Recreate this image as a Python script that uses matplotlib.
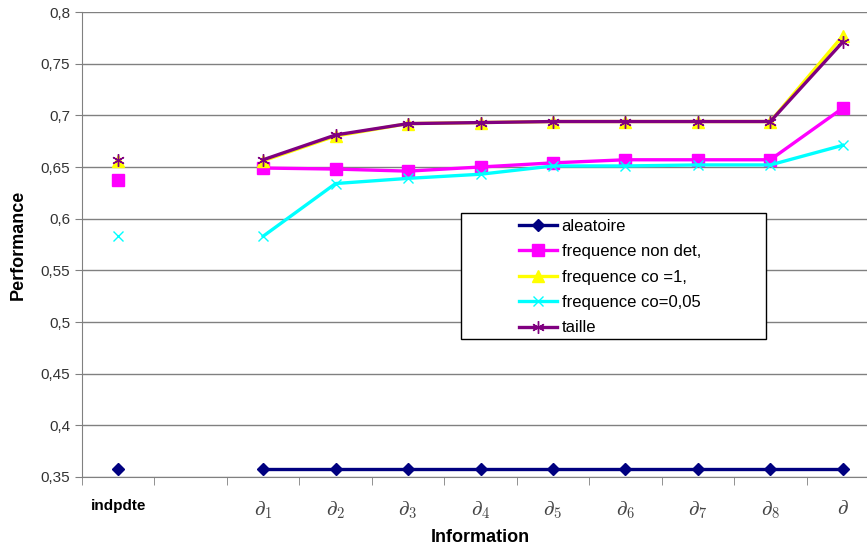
import numpy as np
import matplotlib.pyplot as plt
from matplotlib.patches import Rectangle

plt.rcParams['font.family'] = ['Liberation Sans', 'DejaVu Sans']
plt.rcParams['mathtext.fontset'] = 'cm'

nan = np.nan
categories = ['indpdte', '', r'$\partial_1$', r'$\partial_2$', r'$\partial_3$', r'$\partial_4$',
              r'$\partial_5$', r'$\partial_6$', r'$\partial_7$', r'$\partial_8$', r'$\partial$']

aleatoire = [0.358, nan, 0.358, 0.358, 0.358, 0.358, 0.358, 0.358, 0.358, 0.358, 0.358]
freq_non_det = [0.637, nan, 0.649, 0.648, 0.646, 0.650, 0.654, 0.657, 0.657, 0.657, 0.707]
freq_co1 = [0.656, nan, 0.656, 0.680, 0.692, 0.693, 0.694, 0.694, 0.694, 0.694, 0.777]
freq_co005 = [0.583, nan, 0.583, 0.634, 0.639, 0.643, 0.651, 0.651, 0.652, 0.652, 0.671]
taille = [0.657, nan, 0.657, 0.681, 0.692, 0.693, 0.694, 0.694, 0.694, 0.694, 0.771]

W, H = 867, 546
fig = plt.figure(figsize=(W / 100, H / 100), dpi=100)
ax = fig.add_axes([82 / W, (H - 477) / H, (879 - 82) / W, (477 - 12) / H])

x = np.arange(len(categories))
lw = 2.4
ax.plot(x, aleatoire, color='#000080', lw=lw, marker='D', ms=6, label='aleatoire')
ax.plot(x, freq_non_det, color='#ff00ff', lw=lw, marker='s', ms=8, label='frequence non det,')
ax.plot(x, freq_co1, color='#ffff00', lw=lw, marker='^', ms=9, label='frequence co =1,')
ax.plot(x, freq_co005, color='#00ffff', lw=lw, marker='x', ms=7, mew=1, label='frequence co=0,05')
ax.plot(x, taille, color='#800080', lw=lw, marker=(6, 2, 0), ms=9, mew=1, label='taille')

ax.set_xlim(-0.5, len(categories) - 0.5)
ax.set_ylim(0.35, 0.8)
yt = np.arange(0.35, 0.801, 0.05)
ax.set_yticks(yt)
ax.set_yticklabels([f'{v:.2f}'.rstrip('0').replace('.', ',') for v in yt],
                   fontsize=11, color='#333333')
ax.yaxis.grid(True, color='#808080', lw=1)
ax.set_axisbelow(True)

ax.set_xticks(x)
ax.set_xticklabels(categories)
for i, t in enumerate(ax.get_xticklabels()):
    if i == 0:
        t.set_fontsize(11)
        t.set_fontweight('bold')
    else:
        t.set_fontsize(15)
        t.set_color('#444444')
ax.tick_params(axis='x', which='major', length=0, pad=16)
ax.set_xticks(np.arange(-0.5, len(categories)), minor=True)
ax.tick_params(axis='x', which='minor', length=6, color='#808080', direction='out')
ax.tick_params(axis='y', length=5, color='#808080', direction='out')

for s in ['top', 'right']:
    ax.spines[s].set_visible(False)
for s in ['left', 'bottom']:
    ax.spines[s].set_color('#808080')

ax.set_xlabel('Information', fontsize=13, fontweight='bold', labelpad=6)
ax.set_ylabel('Performance', fontsize=13, fontweight='bold', labelpad=10)

# legend box (white, wider than the entries, like the original)
def fx(px):
    return (px - 82) / (879 - 82)

def fy(py):
    return (477 - py) / (477 - 12)

box = Rectangle((fx(461), fy(339)), fx(766) - fx(461), fy(213) - fy(339),
                transform=ax.transAxes, facecolor='white', edgecolor='black',
                lw=1, zorder=4)
ax.add_patch(box)
leg = ax.legend(loc='upper left', bbox_to_anchor=(fx(519), fy(219)),
                fontsize=12, frameon=False, borderpad=0,
                labelspacing=0.62, handlelength=2.3, handletextpad=0.25,
                borderaxespad=0)
leg.set_zorder(5)

fig.savefig('out.png', dpi=100)
